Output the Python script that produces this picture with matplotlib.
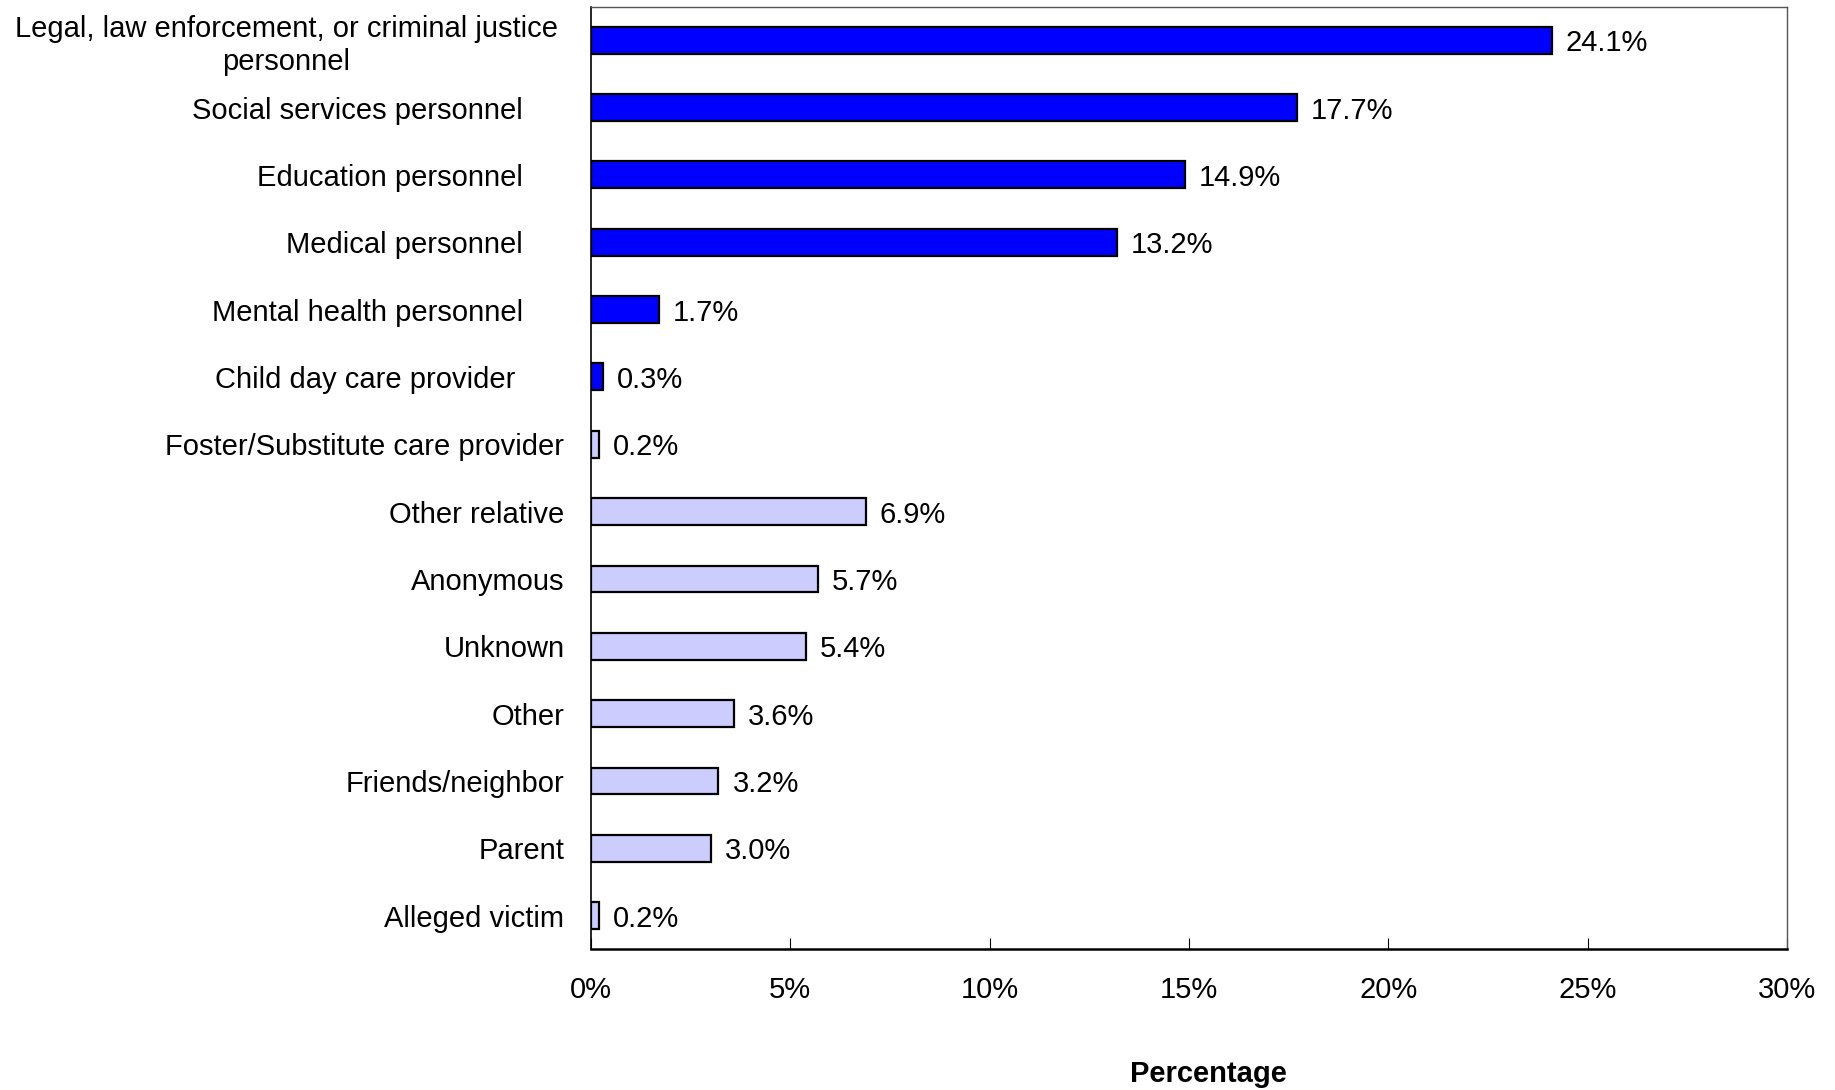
import matplotlib.pyplot as plt

plt.rcParams['font.family'] = ['Liberation Sans', 'DejaVu Sans']

categories = ['Legal, law enforcement, or criminal justice\npersonnel',
              'Social services personnel', 'Education personnel',
              'Medical personnel', 'Mental health personnel',
              'Child day care provider', 'Foster/Substitute care provider',
              'Other relative', 'Anonymous', 'Unknown', 'Other',
              'Friends/neighbor', 'Parent', 'Alleged victim']
values = [24.1, 17.7, 14.9, 13.2, 1.7, 0.3, 0.2, 6.9, 5.7, 5.4, 3.6, 3.2, 3.0, 0.2]
# professional sources in dark blue, the rest in light blue
groups = ['pro'] * 6 + ['non'] * 8
x_ticks = [0, 5, 10, 15, 20, 25, 30]
x_ticklabels = ['0%', '5%', '10%', '15%', '20%', '25%', '30%']

colors = {'pro': '#0000FF', 'non': '#CCCCFF'}
# label padding (points) copied from the original layout
pads = [24, 49, 49, 49, 49, 54] + [19] * 8
fs = 21

fig = plt.figure(figsize=(18.35, 10.90), dpi=100)
ax = fig.add_axes([0.322, 0.129, 0.652, 0.865])

pos = list(range(len(categories)))
bars = ax.barh(pos, values, height=0.4,
               color=[colors[g] for g in groups],
               edgecolor='black', linewidth=1.6)
texts = ax.bar_label(bars, labels=['%.1f%%' % v for v in values], padding=10,
                     fontsize=fs)
for t in texts:
    t.set_verticalalignment('center_baseline')

ax.set_ylim(len(categories) - 0.5, -0.5)
ax.set_xlim(0, 30)
ax.set_yticks(pos)
ax.set_yticklabels(categories, fontsize=fs)
for t, p in zip(ax.yaxis.get_major_ticks(), pads):
    t.set_pad(p)
ax.get_yticklabels()[0].set_multialignment('center')
ax.get_yticklabels()[0].set_linespacing(1.2)
ax.tick_params(axis='y', length=0)

ax.set_xticks(x_ticks)
ax.set_xticklabels(x_ticklabels, fontsize=fs)
ax.tick_params(axis='x', direction='in', length=8, width=0.8, pad=19)

ax.set_xlabel('Percentage', fontsize=fs, fontweight='bold')
ax.xaxis.set_label_coords(0.516, -0.117)

for s in ['top', 'right']:
    ax.spines[s].set_color('#555555')
    ax.spines[s].set_linewidth(1)
ax.spines['left'].set_linewidth(1.2)
ax.spines['bottom'].set_linewidth(1.8)

fig.savefig('out.png', dpi=100)
